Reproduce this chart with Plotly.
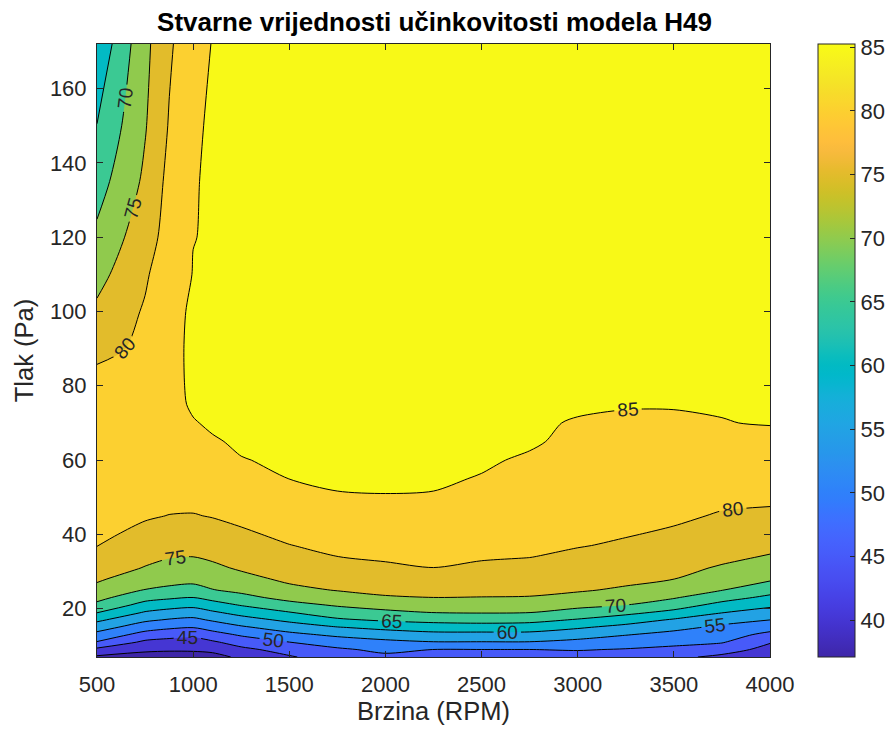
import math
import plotly.graph_objects as go

# ---------------- data ----------------
rpm = [500, 750, 875, 1000, 1100, 1250, 1500, 1750, 2000, 2250, 2500, 2750,
       3000, 3250, 3500, 3750, 4000]
pressure = [7, 9, 11, 13, 15, 17, 19, 21, 23, 25, 28, 31, 34, 37, 40, 45, 50,
            55, 60, 65, 70, 75, 80, 90, 100, 110, 120, 135, 150, 172]

# efficiency (%) per RPM column, listed from the lowest to the highest pressure
eff_500 = [39.2, 43.8, 49.7, 53.5, 57.2, 61.0, 65.2, 68.9, 71.4, 73.5, 75.7, 77.2, 78.7, 80.1, 81.0,
           82.0, 82.7, 83.1, 83.3, 83.3, 83.0, 82.4, 81.5, 78.9, 75.9, 73.4, 71.0, 67.9, 65.1, 61.0]
eff_750 = [37.9, 41.0, 44.0, 48.1, 52.2, 55.9, 59.6, 63.3, 66.7, 69.8, 72.3, 74.8, 76.1, 77.4, 78.7,
           80.5, 81.5, 82.2, 82.7, 83.0, 83.2, 83.1, 82.6, 80.76, 80.5, 79.34, 77.97, 75.9, 74.64, 73.7]
eff_875 = [37.1, 40.8, 43.4, 46.7, 50.9, 54.6, 58.3, 62.0, 65.7, 69.0, 71.6, 73.5, 75.3, 76.5, 77.8,
           79.9, 81.3, 82.3, 83.0, 83.4, 84.1, 84.6, 84.6, 84.6, 84.5, 83.09, 81.76, 81.35, 80.32, 79.3]
eff_1000 = [37.8, 40.7, 43.2, 46.0, 50.2, 53.9, 57.6, 61.3, 64.97, 68.4, 71.3, 73.1, 75.02, 76.3, 77.5,
            79.8, 81.2, 82.3, 83.3, 84.1, 84.93, 85.15, 85.22, 85.25, 85.22, 85.1, 84.95, 84.9, 84.76, 83.2]
eff_1100 = [38.6, 41.0, 44.3, 48.1, 51.9, 55.6, 59.3, 63.0, 66.5, 69.8, 72.0, 74.1, 75.7, 77.0, 78.3,
            80.2, 81.3, 82.4, 83.5, 84.9, 85.15, 85.2, 85.2, 85.25, 85.25, 85.2, 85.2, 85.2, 85.2, 85.15]
eff_1250 = [40.8, 43.8, 47.1, 50.6, 54.3, 58.0, 61.7, 65.3, 68.7, 71.0, 73.6, 75.6, 76.9, 78.1, 79.4,
            80.9, 82.2, 83.4, 84.96, 85.15, 85.2, 85.2, 85.25, 85.25, 85.25, 85.25, 85.2, 85.2, 85.2, 85.2]
eff_1500 = [44.5, 46.9, 49.97, 53.7, 57.4, 61.1, 64.8, 68.5, 71.4, 73.8, 75.9, 77.2, 78.6, 79.9, 80.8,
            82.3, 83.7, 85.03, 85.15, 85.2, 85.2, 85.25, 85.25, 85.25, 85.25, 85.25, 85.25, 85.2, 85.2, 85.2]
eff_1750 = [47.5, 49.3, 52.2, 56.0, 59.8, 64.3, 67.6, 70.5, 73.0, 75.2, 76.8, 78.4, 79.98, 80.9, 81.8,
            83.2, 84.9, 85.2, 85.2, 85.2, 85.25, 85.25, 85.25, 85.26, 85.26, 85.25, 85.25, 85.2, 85.2, 85.2]
eff_2000 = [49.0, 51.0, 53.9, 57.3, 61.4, 65.7, 69.0, 71.9, 74.6, 76.0, 77.7, 79.4, 80.5, 81.4, 82.2,
            83.6, 84.95, 85.2, 85.2, 85.25, 85.25, 85.26, 85.26, 85.26, 85.26, 85.25, 85.25, 85.25, 85.2, 85.2]
eff_2250 = [47.5, 49.95, 54.8, 58.5, 62.5, 66.5, 70.1, 72.6, 74.98, 76.25, 78.1, 79.98, 80.75, 81.5, 82.25,
            83.5, 84.9, 85.2, 85.2, 85.25, 85.25, 85.26, 85.26, 85.26, 85.26, 85.25, 85.25, 85.25, 85.2, 85.2]
eff_2500 = [47.5, 49.95, 54.8, 58.5, 62.7, 66.9, 70.3, 72.6, 74.9, 76.0, 77.7, 79.3, 80.4, 81.0, 81.6,
            82.7, 83.7, 84.92, 85.2, 85.2, 85.25, 85.25, 85.25, 85.25, 85.25, 85.25, 85.25, 85.2, 85.2, 85.2]
eff_2750 = [47.5, 49.95, 54.8, 58.5, 62.5, 66.5, 70.1, 72.4, 74.8, 75.9, 77.4, 78.8, 80.1, 80.6, 81.1,
            82.0, 82.8, 83.7, 84.8, 85.2, 85.2, 85.25, 85.25, 85.25, 85.25, 85.25, 85.2, 85.2, 85.2, 85.2]
eff_3000 = [48.0, 50.3, 53.7, 57.1, 60.6, 64.6, 68.3, 71.3, 73.8, 75.4, 76.7, 78.0, 79.2, 80.2, 80.6,
            81.3, 82.0, 82.8, 83.8, 84.6, 84.9, 85.2, 85.2, 85.25, 85.25, 85.25, 85.2, 85.2, 85.2, 85.2]
eff_3250 = [47.0, 49.7, 52.4, 55.2, 58.5, 62.3, 66.3, 70.03, 72.2, 74.4, 76.0, 77.1, 78.3, 79.5, 80.2,
            80.9, 81.7, 82.4, 83.1, 83.8, 84.5, 85.2, 85.2, 85.25, 85.25, 85.2, 85.2, 85.2, 85.2, 85.2]
eff_3500 = [46.0, 48.8, 51.3, 53.6, 56.3, 59.5, 63.7, 67.3, 70.4, 72.3, 75.04, 76.1, 77.2, 78.3, 79.5,
            80.6, 81.3, 82.1, 82.9, 83.7, 84.5, 85.2, 85.2, 85.25, 85.25, 85.2, 85.2, 85.2, 85.2, 85.2]
eff_3750 = [44.0, 46.9, 50.4, 52.2, 54.1, 56.7, 60.2, 63.5, 66.9, 70.1, 72.4, 74.6, 75.9, 76.9, 77.9,
            79.7, 80.8, 82.0, 82.8, 83.8, 84.92, 85.2, 85.2, 85.2, 85.2, 85.2, 85.2, 85.2, 85.2, 85.2]
eff_4000 = [42.0, 43.6, 45.3, 48.7, 51.9, 55.03, 58.0, 61.0, 63.9, 66.9, 70.7, 72.7, 74.7, 76.0, 77.3,
            79.3, 80.7, 81.9, 83.0, 84.1, 85.15, 85.2, 85.2, 85.2, 85.2, 85.2, 85.2, 85.2, 85.2, 85.2]

levels = [40, 45, 50, 55, 60, 65, 70, 75, 80, 85]
color_limits = [37.1, 85.26]
x_ticks = [500, 1000, 1500, 2000, 2500, 3000, 3500, 4000]
y_ticks = [20, 40, 60, 80, 100, 120, 140, 160]
cbar_ticks = [40, 45, 50, 55, 60, 65, 70, 75, 80, 85]

title_text = "Stvarne vrijednosti učinkovitosti modela H49"
x_title = "Brzina (RPM)"
y_title = "Tlak (Pa)"

# ---------------- build table ----------------
columns = [eff_500, eff_750, eff_875, eff_1000, eff_1100, eff_1250, eff_1500, eff_1750,
           eff_2000, eff_2250, eff_2500, eff_2750, eff_3000, eff_3250, eff_3500, eff_3750, eff_4000]
z = [[col[i] for col in columns] for i in range(len(pressure))]

# ---------------- parula colormap ----------------
PARULA = [
    (0.2422, 0.1504, 0.6603), (0.2504, 0.1650, 0.7076), (0.2578, 0.1818, 0.7511), (0.2647, 0.1978, 0.7952),
    (0.2706, 0.2147, 0.8364), (0.2751, 0.2342, 0.8710), (0.2783, 0.2559, 0.8991), (0.2803, 0.2782, 0.9221),
    (0.2813, 0.3006, 0.9414), (0.2810, 0.3228, 0.9579), (0.2795, 0.3447, 0.9717), (0.2760, 0.3667, 0.9829),
    (0.2699, 0.3892, 0.9906), (0.2602, 0.4123, 0.9952), (0.2440, 0.4358, 0.9988), (0.2206, 0.4603, 0.9973),
    (0.1963, 0.4847, 0.9892), (0.1834, 0.5074, 0.9798), (0.1786, 0.5289, 0.9682), (0.1764, 0.5499, 0.9520),
    (0.1687, 0.5703, 0.9359), (0.1540, 0.5902, 0.9218), (0.1460, 0.6091, 0.9079), (0.1380, 0.6276, 0.8973),
    (0.1248, 0.6459, 0.8883), (0.1113, 0.6635, 0.8763), (0.0952, 0.6798, 0.8598), (0.0689, 0.6948, 0.8394),
    (0.0297, 0.7082, 0.8163), (0.0036, 0.7203, 0.7917), (0.0067, 0.7312, 0.7660), (0.0433, 0.7411, 0.7394),
    (0.0964, 0.7500, 0.7120), (0.1408, 0.7584, 0.6842), (0.1717, 0.7670, 0.6554), (0.1938, 0.7758, 0.6251),
    (0.2161, 0.7843, 0.5923), (0.2470, 0.7918, 0.5567), (0.2906, 0.7973, 0.5188), (0.3406, 0.8008, 0.4789),
    (0.3909, 0.8029, 0.4354), (0.4456, 0.8024, 0.3909), (0.5044, 0.7993, 0.3480), (0.5616, 0.7942, 0.3045),
    (0.6174, 0.7876, 0.2612), (0.6720, 0.7793, 0.2227), (0.7242, 0.7698, 0.1910), (0.7738, 0.7598, 0.1646),
    (0.8203, 0.7498, 0.1535), (0.8634, 0.7406, 0.1596), (0.9035, 0.7330, 0.1774), (0.9393, 0.7288, 0.2100),
    (0.9728, 0.7298, 0.2394), (0.9956, 0.7434, 0.2371), (0.9970, 0.7659, 0.2199), (0.9952, 0.7893, 0.2028),
    (0.9892, 0.8136, 0.1885), (0.9786, 0.8386, 0.1766), (0.9676, 0.8639, 0.1643), (0.9610, 0.8890, 0.1537),
    (0.9597, 0.9135, 0.1423), (0.9628, 0.9373, 0.1265), (0.9691, 0.9606, 0.1064), (0.9769, 0.9839, 0.0805),
]


def rgb(c):
    return "rgb(%d,%d,%d)" % tuple(round(255 * v) for v in c)


def parula_at(t):
    t = min(max(t, 0.0), 1.0)
    pos = t * (len(PARULA) - 1)
    i = int(math.floor(pos))
    if i >= len(PARULA) - 1:
        return PARULA[-1]
    f = pos - i
    a, b = PARULA[i], PARULA[i + 1]
    return tuple(a[k] + (b[k] - a[k]) * f for k in range(3))


parula_scale = [[i / (len(PARULA) - 1), rgb(c)] for i, c in enumerate(PARULA)]

cmin, cmax = color_limits
# MATLAB contourf: each filled band takes the colour of its lower level
band_vals = [cmin] + levels
band_cols = [rgb(parula_at((v - cmin) / (cmax - cmin))) for v in band_vals]
nb = len(band_cols) - 1
fill_scale = []
for k, c in enumerate(band_cols):
    fill_scale.append([max(0.0, k / nb - 0.04), c])
    fill_scale.append([min(1.0, k / nb + 0.04), c])

TXT = "#262626"
FONT = "Liberation Sans, Arial, Helvetica, sans-serif"

# the page body adds an 8 px offset, so the figure is drawn 8 px smaller
OFF = 8
W, H = 893 - OFF, 732 - OFF
L, T = 97 - OFF, 44 - OFF
R = W - (770 - OFF)
B = H - (657 - OFF)

fig = go.Figure()
fig.add_trace(go.Contour(
    x=rpm, y=pressure, z=z,
    autocontour=False,
    contours=dict(start=levels[0], end=levels[-1], size=levels[1] - levels[0],
                  coloring="fill", showlabels=True,
                  labelfont=dict(size=19, color=TXT, family=FONT)),
    line=dict(color="black", width=1, smoothing=0.8),
    colorscale=fill_scale,
    showscale=False,
    hoverinfo="skip",
))

# continuous colorbar as in MATLAB
fig.add_trace(go.Scatter(
    x=[rpm[0], rpm[0]], y=[pressure[0], pressure[0]], mode="markers",
    marker=dict(size=1, opacity=0, color=[cmin, cmax], colorscale=parula_scale,
                cmin=cmin, cmax=cmax, showscale=True,
                colorbar=dict(x=(818 - 97) / 673, xanchor="left", y=0.5, yanchor="middle",
                              len=1.0, lenmode="fraction", thickness=37, thicknessmode="pixels",
                              ypad=0, xpad=0, outlinewidth=1, outlinecolor=TXT,
                              tickvals=cbar_ticks, ticks="inside", ticklen=5, tickcolor=TXT,
                              tickfont=dict(size=22, color=TXT, family=FONT))),
    hoverinfo="skip", showlegend=False,
))

fig.update_layout(
    width=W, height=H,
    margin=dict(l=L, r=R, t=T, b=B, autoexpand=False),
    paper_bgcolor="white", plot_bgcolor="white",
    font=dict(family=FONT, color=TXT),
    title=dict(text="<b>" + title_text + "</b>", x=(434.5 - OFF) / W, xanchor="center",
               y=1 - (22 - OFF) / H, yanchor="middle",
               font=dict(size=26, color="black", family=FONT)),
    showlegend=False,
)
fig.update_xaxes(range=[rpm[0], rpm[-1]], tickvals=x_ticks, ticks="inside", ticklen=6,
                 tickcolor=TXT, showline=True, linecolor=TXT, linewidth=1, mirror="ticks",
                 showgrid=False, zeroline=False, tickfont=dict(size=22, color=TXT),
                 automargin=False, ticklabelstandoff=8,
                 title=dict(text=x_title, font=dict(size=25.5, color=TXT), standoff=5))
fig.update_yaxes(range=[pressure[0], pressure[-1]], tickvals=y_ticks, ticks="inside", ticklen=6,
                 tickcolor=TXT, showline=True, linecolor=TXT, linewidth=1, mirror="ticks",
                 showgrid=False, zeroline=False, tickfont=dict(size=22, color=TXT),
                 automargin=False, ticklabelstandoff=5,
                 title=dict(text=y_title, font=dict(size=25.5, color=TXT), standoff=8))

fig.write_html("out.html")
